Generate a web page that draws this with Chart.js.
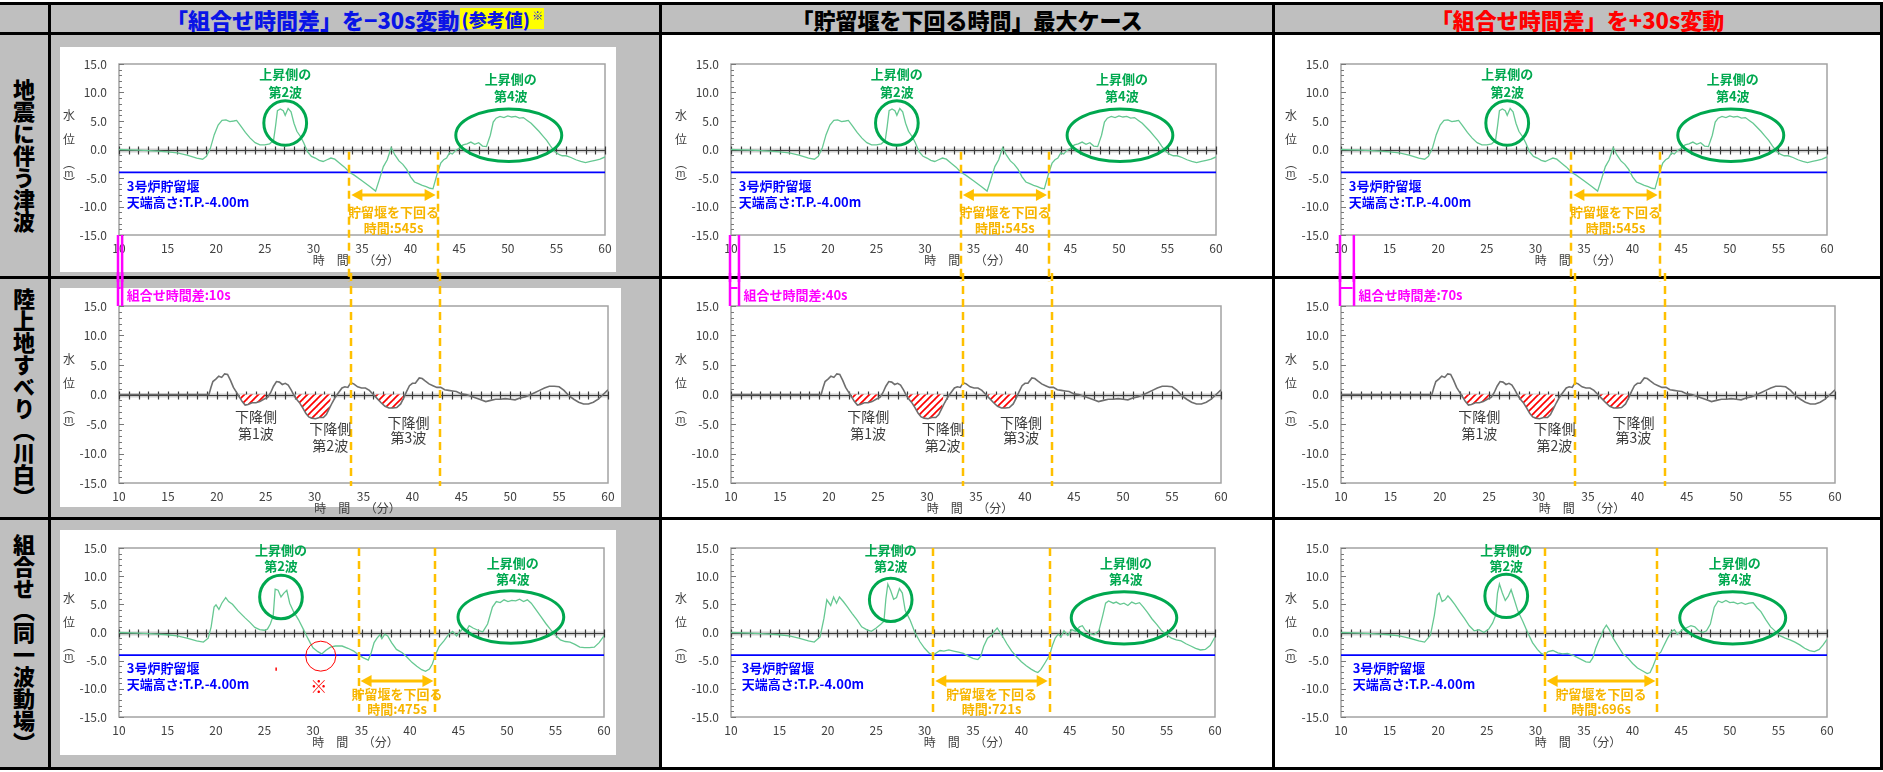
<!DOCTYPE html>
<html lang="ja">
<head>
<meta charset="utf-8">
<title>貯留堰を下回る時間</title>
<script src="https://cdn.jsdelivr.net/npm/chart.js@4.4.1/dist/chart.umd.min.js"></script>
<style>
html, body { margin: 0; padding: 0; background: #fff; }
#page { position: relative; width: 1883px; height: 772px; overflow: hidden; font-family: 'Noto Sans CJK JP', sans-serif; }
#page div { position: absolute; }
.gray { background: #bfbfbf; }
.white { background: #fff; }
.line { background: #000; z-index: 3; }
.head { display: flex; align-items: center; justify-content: center; font-weight: 900; font-size: 22px; line-height: 1; white-space: nowrap; z-index: 4; }
.rowlab { display: flex; align-items: center; justify-content: center; z-index: 4; }
.rowlab span { writing-mode: vertical-rl; font-weight: 900; font-size: 22px; line-height: 1; }
canvas { position: absolute; z-index: 5; }
</style>
</head>
<body>
<div id="page"></div>
<script>
// ── 図から読み取った値 ─────────────────────────────────────────────
const HEADERS = ['「組合せ時間差」を−30s変動', '「貯留堰を下回る時間」最大ケース', '「組合せ時間差」を+30s変動'];
const ROW_LABELS = ['地震に伴う津波', '陸上地すべり（川白）', '組合せ（同一波動場）'];
const TIME_DIFF_S = [10, 40, 70];            // 組合せ時間差 [s]
const BELOW_S_EQ = [545, 545, 545];          // 地震に伴う津波：貯留堰を下回る時間 [s]
const BELOW_S_CB = [475, 721, 696];          // 組合せ：貯留堰を下回る時間 [s]
const BELOW_SPAN_EQ = [33.7, 42.78];         // 下回る区間 [分]
const BELOW_SPAN_CB = [[34.7, 42.62], [30.9, 42.92], [30.95, 42.55]];
const DAM_LEVEL = -4.0;                      // 3号炉貯留堰 天端高さ T.P.-4.00m
const HATCH_WINDOWS = [[22.3, 25.0], [28.0, 31.7], [36.2, 39.1]]; // 下降側 第1〜3波

// 地震に伴う津波（水位 m / 時間 分）
const EQ_WAVE = [
  [10, 0], [11, -0.05], [12, -0.1], [13, -0.2], [14, -0.3], [15, -0.4], [16, -0.6], [17, -1.0], [18, -1.5],
  [18.6, -1.7], [19.0, -1.2], [19.4, 0.2], [19.8, 2.6], [20.2, 4.3], [20.6, 5.1], [21.0, 5.2], [21.4, 4.9],
  [21.8, 5.0], [22.1, 5.1], [22.5, 4.2], [23.0, 3.0], [23.5, 2.0], [24.0, 1.2], [24.5, 0.8], [25.0, 0.8],
  [25.5, 1.0], [25.9, 1.6], [26.1, 4.0], [26.3, 6.8], [26.6, 7.1], [26.9, 6.8], [27.1, 6.0], [27.4, 7.2],
  [27.7, 6.6], [28.0, 4.6], [28.3, 3.2], [28.7, 2.2], [29.0, 1.2], [29.4, -0.4], [29.8, -1.2], [30.2, -1.5],
  [30.6, -1.9], [31.0, -2.1], [31.4, -1.8], [31.8, -1.5], [32.2, -1.7], [32.7, -2.4], [33.2, -3.1], [33.7, -4.0],
  [34.2, -4.5], [35.0, -5.5], [35.8, -6.5], [36.4, -7.3], [36.8, -5.2], [37.2, -3.0], [37.6, -1.8], [38.0, 0.3],
  [38.4, -1.0], [38.8, -2.0], [39.2, -2.6], [39.6, -3.5], [40.0, -4.8], [40.4, -5.7], [40.8, -6.0], [41.2, -6.3],
  [41.6, -6.5], [42.0, -6.8], [42.3, -6.9], [42.78, -4.0], [43.1, -2.4], [43.4, -1.8], [43.7, -1.5], [44.0, -0.6],
  [44.3, -0.8], [44.6, -0.2], [45.0, 0.2], [45.4, 0.8], [45.8, 1.0], [46.2, 1.3], [46.6, 0.9], [47.0, 1.2],
  [47.4, 0.6], [47.8, 0.5], [48.2, 2.5], [48.5, 4.8], [48.8, 5.5], [49.2, 5.8], [49.6, 5.6], [50.0, 5.9],
  [50.4, 5.7], [50.8, 5.8], [51.2, 5.5], [51.6, 5.6], [52.0, 5.1], [52.4, 4.6], [52.8, 3.9], [53.2, 3.2],
  [53.6, 2.4], [54.0, 1.6], [54.4, 0.6], [54.8, -0.3], [55.2, -0.8], [55.6, -1.1], [56.0, -1.1], [56.5, -1.4],
  [57.0, -1.8], [57.5, -2.1], [58.0, -2.3], [58.5, -2.1], [59.0, -1.9], [59.5, -1.7], [60, -1.3],
];

// 陸上地すべり（川白）
const LS_WAVE = [
  [10, 0], [19.2, 0], [19.4, 1.2], [19.6, 2.2], [19.9, 2.6], [20.2, 3.1], [20.5, 2.9], [20.8, 3.5], [21.1, 3.4],
  [21.4, 2.4], [21.7, 1.2], [22.0, 0.4], [22.3, -0.4], [22.6, -1.2], [22.9, -1.8], [23.2, -1.7], [23.6, -1.4],
  [24.0, -1.4], [24.4, -1.2], [24.8, -0.8], [25.2, -0.5], [25.5, 0.3], [25.8, 1.4], [26.1, 2.2], [26.4, 2.1],
  [26.7, 1.7], [27.0, 1.9], [27.3, 1.6], [27.6, 0.8], [27.9, -0.2], [28.2, -0.9], [28.5, -1.5], [28.8, -2.3],
  [29.1, -3.2], [29.4, -3.8], [29.7, -4.0], [30.1, -4.1], [30.5, -3.9], [30.9, -3.9], [31.2, -3.4], [31.5, -2.4],
  [31.8, -1.4], [32.1, -0.5], [32.4, 0.2], [32.8, 1.1], [33.1, 1.3], [33.4, 1.2], [33.7, 2.0], [34.0, 1.8],
  [34.4, 1.3], [34.8, 1.1], [35.2, 1.1], [35.6, 0.7], [36.0, 0.0], [36.4, -0.7], [36.8, -1.4], [37.2, -2.0],
  [37.6, -2.3], [38.0, -2.3], [38.4, -2.2], [38.8, -1.6], [39.1, -0.6], [39.4, 0.5], [39.7, 1.5], [40.0, 1.9],
  [40.3, 1.9], [40.7, 2.8], [41.0, 2.7], [41.3, 2.3], [41.7, 1.8], [42.1, 1.5], [42.5, 1.2], [42.9, 1.2],
  [43.3, 0.8], [43.7, 0.7], [44.1, 0.6], [44.5, 0.5], [45.0, 0.1], [45.5, 0.0], [46.0, -0.3], [46.5, -0.6],
  [47.0, -0.9], [47.5, -1.2], [48.0, -1.0], [48.5, -0.8], [49.0, -0.8], [49.5, -0.7], [50.0, -0.8], [50.5, -0.9],
  [51.0, -0.6], [51.5, -0.4], [52.0, -0.1], [52.5, 0.3], [53.0, 0.7], [53.5, 1.1], [54.0, 1.4], [54.5, 1.4],
  [55.0, 1.3], [55.5, 0.7], [56.0, -0.2], [56.5, -0.8], [57.0, -1.3], [57.5, -1.6], [58.0, -1.6], [58.5, -1.3],
  [59.0, -0.8], [59.5, 0.0], [60, 0.8],
];

// 組合せ（同一波動場）：-30s変動
const CB_WAVE_M30 = [
  [10, 0], [12, -0.1], [14, -0.3], [15, -0.4], [16, -0.6], [17, -1.0], [18, -1.5], [18.7, -1.7], [19.2, -1.0],
  [19.5, 1.0], [19.8, 4.5], [20.0, 4.9], [20.3, 4.1], [20.6, 5.2], [21.0, 6.2], [21.3, 5.5], [21.7, 5.0],
  [22.3, 3.8], [23.0, 2.6], [23.5, 1.8], [24.0, 0.9], [24.5, 0.5], [25.0, 0.4], [25.3, 0.6], [25.6, 1.5],
  [25.9, 3.0], [26.1, 7.7], [26.4, 7.5], [26.7, 6.3], [27.0, 7.0], [27.3, 7.5], [27.6, 5.2], [28.0, 3.7],
  [28.5, 2.3], [29.0, 0.6], [29.3, -0.5], [29.7, -1.8], [30.0, -2.7], [30.5, -3.4], [30.9, -3.8], [31.3, -3.2],
  [31.8, -2.6], [32.3, -2.4], [33.0, -2.4], [33.6, -2.8], [34.2, -3.3], [34.7, -4.0], [35.2, -4.5], [35.7, -4.9],
  [36.0, -3.6], [36.3, -1.8], [36.6, -1.0], [36.9, -0.4], [37.1, -1.1], [37.4, -0.3], [37.7, -0.6], [38.1, -1.8],
  [38.6, -3.0], [39.2, -3.6], [39.7, -4.4], [40.2, -5.3], [40.7, -6.0], [41.2, -6.6], [41.6, -6.9], [42.0, -6.5],
  [42.3, -5.6], [42.62, -4.0], [43.0, -2.5], [43.5, -1.5], [44.0, -0.3], [44.4, 0.2], [44.8, -0.6], [45.1, 0.0],
  [45.5, 0.8], [45.8, 0.3], [46.1, 1.2], [46.5, 0.8], [47.0, 0.4], [47.5, 0.1], [48.0, 1.5], [48.5, 4.5],
  [48.9, 5.5], [49.3, 5.3], [49.7, 5.8], [50.1, 5.5], [50.5, 5.7], [50.9, 5.6], [51.3, 5.9], [51.7, 5.5],
  [52.1, 5.8], [52.5, 5.2], [53.0, 4.0], [53.5, 2.8], [54.0, 1.6], [54.5, 0.5], [55.0, -0.5], [55.5, -1.3],
  [56.0, -1.6], [56.5, -1.7], [57.0, -2.1], [57.5, -2.6], [58.0, -2.7], [58.5, -2.7], [59.0, -2.6], [59.5, -1.8],
  [60, -0.6],
];

// 組合せ：「貯留堰を下回る時間」最大ケース
const CB_WAVE_MAX = [
  [10, 0], [12, -0.1], [14, -0.3], [15, -0.4], [16, -0.6], [17, -1.0], [18, -1.5], [18.6, -1.7], [19.2, -0.8],
  [19.6, 2.5], [19.9, 5.8], [20.3, 4.8], [20.6, 6.3], [20.9, 5.2], [21.2, 6.3], [21.6, 5.5], [22.0, 4.6],
  [22.5, 3.4], [23.0, 2.3], [23.5, 1.0], [24.0, 0.5], [24.5, 0.2], [25.0, 0.8], [25.5, 1.5], [25.8, 2.0],
  [26.0, 6.0], [26.2, 8.6], [26.5, 7.4], [26.8, 5.9], [27.1, 6.2], [27.4, 7.8], [27.7, 7.0], [28.0, 3.9],
  [28.5, 2.2], [29.0, 0.0], [29.5, -1.6], [30.0, -2.8], [30.5, -3.7], [30.9, -4.0], [31.3, -3.5], [31.6, -3.2],
  [32.0, -3.3], [32.5, -3.1], [33.0, -3.3], [33.5, -3.5], [34.0, -3.7], [34.5, -4.2], [35.0, -4.6], [35.5, -4.8],
  [35.8, -4.2], [36.1, -2.5], [36.5, -1.0], [36.9, -0.5], [37.2, 0.2], [37.5, 0.8], [37.8, 0.0], [38.1, -0.8],
  [38.5, -2.0], [39.0, -3.3], [39.5, -4.3], [40.0, -5.2], [40.5, -5.9], [41.0, -6.5], [41.4, -6.9], [41.7, -7.1],
  [42.0, -6.6], [42.4, -5.5], [42.92, -4.0], [43.2, -2.3], [43.5, -1.0], [43.8, -0.3], [44.1, -0.8], [44.4, 0.3],
  [44.8, -0.5], [45.2, 0.5], [45.6, 0.2], [46.0, 1.0], [46.3, 1.2], [46.6, 0.4], [47.0, -0.1], [47.5, -0.4],
  [48.0, 0.3], [48.4, 3.0], [48.7, 5.2], [49.0, 5.6], [49.5, 5.2], [49.8, 5.4], [50.2, 5.0], [50.6, 5.2],
  [51.0, 4.8], [51.4, 5.4], [51.8, 5.1], [52.2, 5.3], [52.6, 4.5], [53.0, 3.6], [53.5, 2.4], [54.0, 1.4],
  [54.5, 0.3], [55.0, -0.4], [55.5, -1.0], [56.0, -1.3], [56.5, -1.5], [57.0, -2.0], [57.5, -2.4], [58.0, -2.8],
  [58.5, -3.1], [59.0, -3.0], [59.5, -2.3], [60, -0.8],
];

// 組合せ：+30s変動
const CB_WAVE_P30 = [
  [10, 0], [12, -0.1], [14, -0.3], [15, -0.4], [16, -0.6], [17, -1.0], [18, -1.5], [18.6, -1.7], [19.2, -0.5],
  [19.6, 3.0], [19.9, 6.6], [20.1, 7.0], [20.4, 5.5], [20.7, 5.8], [21.0, 6.5], [21.3, 5.9], [21.7, 5.0],
  [22.2, 3.7], [22.7, 2.5], [23.2, 1.2], [23.7, 0.3], [24.2, 0.5], [24.7, 0.0], [25.2, 0.6], [25.6, 1.7],
  [25.9, 3.0], [26.1, 7.0], [26.3, 8.6], [26.6, 7.0], [26.9, 5.7], [27.2, 6.4], [27.5, 7.6], [27.8, 6.0],
  [28.2, 3.8], [28.7, 2.0], [29.2, 0.0], [29.7, -1.8], [30.2, -3.0], [30.6, -3.7], [30.95, -4.0], [31.3, -3.4],
  [31.8, -3.2], [32.3, -3.6], [32.8, -3.8], [33.3, -3.7], [33.8, -4.0], [34.5, -4.6], [35.2, -5.2], [35.6, -5.3],
  [35.9, -4.5], [36.2, -2.8], [36.5, -1.5], [36.8, -0.5], [37.0, 0.5], [37.3, 1.3], [37.6, 0.5], [38.0, -1.0],
  [38.5, -2.4], [39.0, -3.8], [39.5, -4.5], [40.0, -5.5], [40.5, -6.3], [41.0, -6.8], [41.5, -7.3], [41.8, -7.1],
  [42.1, -6.0], [42.55, -4.0], [42.9, -3.5], [43.2, -2.4], [43.6, -1.0], [44.0, 0.2], [44.3, 0.5], [44.6, -0.3],
  [45.0, 0.3], [45.5, 0.8], [46.0, 1.2], [46.4, 1.0], [46.8, 0.3], [47.2, 0.0], [47.6, 0.3], [48.0, 1.5],
  [48.4, 4.5], [48.8, 5.6], [49.2, 5.3], [49.6, 5.7], [50.0, 5.3], [50.4, 5.4], [50.8, 5.1], [51.2, 5.3],
  [51.6, 5.0], [52.0, 5.2], [52.4, 5.3], [52.8, 4.4], [53.2, 3.7], [53.7, 2.3], [54.2, 1.0], [54.7, 0.2],
  [55.2, -0.6], [55.7, -1.0], [56.2, -1.3], [56.7, -1.7], [57.2, -2.2], [57.7, -2.8], [58.2, -3.2], [58.7, -3.4],
  [59.2, -3.0], [59.6, -2.2], [60, -1.2],
];
const CB_WAVES = [CB_WAVE_M30, CB_WAVE_MAX, CB_WAVE_P30];

// ── 配置・色 ─────────────────────────────────────────────────────
const COL_X = [[51, 659], [662, 1272], [1275, 1880]];
const ROW_Y = [[35, 276], [279, 517], [520, 767]];
const PLOT_Y = [[64, 235], [306, 483], [548, 717]];
const PLOT_X = [
  [[119, 605], [731, 1216], [1341, 1827]],
  [[119, 608], [731, 1221], [1341, 1835]],
  [[119, 604], [731, 1215], [1341, 1827]],
];
const PANELS = [[60, 47, 616, 272], [60, 288, 621, 507], [60, 530, 616, 755]];

const GREEN_LINE = '#66c892';
const GREEN = '#00a84f';
const BLUE = '#0000ff';
const ORANGE = '#ffc000';
const ORANGE_TXT = '#f7b500';
const MAGENTA = '#ff00ff';
const GRAY_LINE = '#6e6e6e';
const FONT = "'Noto Sans CJK JP', sans-serif";
const BOLD13 = `700 13px ${FONT}`;

Chart.defaults.font.family = FONT;

const page = document.getElementById('page');
function div(x, y, w, h, cls, html) {
  const d = document.createElement('div');
  d.className = cls;
  Object.assign(d.style, { left: x + 'px', top: y + 'px', width: w + 'px', height: h + 'px' });
  if (html) d.innerHTML = html;
  page.appendChild(d);
  return d;
}

// 表の背景と罫線
div(0, 3, 1883, 31, 'gray');
div(0, 33, 49, 737, 'gray');
ROW_Y.forEach(([y0, y1]) => div(COL_X[0][0], y0, COL_X[0][1] - COL_X[0][0], y1 - y0, 'gray'));
PANELS.forEach(([x0, y0, x1, y1]) => div(x0, y0, x1 - x0, y1 - y0, 'white'));
[2, 32, 276, 517, 767].forEach((y) => div(0, y, 1883, 3, 'line'));
[48, 659, 1272, 1880].forEach((x) => div(x, 2, 3, 768, 'line'));

// 見出し
const headHtml = [
  `<span style="color:#0a14e6">${HEADERS[0]}</span><span style="color:#0a14e6;background:#ffff00;font-size:18px;padding:2px 1px 1px 2px">(参考値)<span style="font-size:11px;vertical-align:7px;margin-left:2px">※</span></span>`,
  `<span style="color:#000">${HEADERS[1]}</span>`,
  `<span style="color:#ff0000">${HEADERS[2]}</span>`,
];
COL_X.forEach(([x0, x1], c) => div(x0, 5, x1 - x0, 27, 'head', headHtml[c]));
ROW_Y.forEach(([y0, y1], r) => div(0, y0, 48, y1 - y0, 'rowlab', `<span>${ROW_LABELS[r]}</span>`));

// 斜線ハッチ（下降側の波）
function makeHatch() {
  const n = 7;
  const c = document.createElement('canvas');
  c.width = c.height = n;
  const g = c.getContext('2d');
  g.fillStyle = '#ffffff';
  g.fillRect(0, 0, n, n);
  g.strokeStyle = '#ff0000';
  g.lineWidth = 1.7;
  [[-n / 2, n / 2, n / 2, -n / 2], [0, n, n, 0], [n / 2, n * 1.5, n * 1.5, n / 2]].forEach(([a, b, d, e]) => {
    g.beginPath(); g.moveTo(a, b); g.lineTo(d, e); g.stroke();
  });
  return g.createPattern(c, 'repeat');
}
const HATCH = makeHatch();

const pts = (arr) => arr.map(([x, y]) => ({ x, y }));
const damSet = () => ({ data: [{ x: 10, y: DAM_LEVEL }, { x: 60, y: DAM_LEVEL }], borderColor: BLUE, borderWidth: 1.8 });

// 枠・0軸・軸タイトル
const frameAxes = {
  id: 'frameAxes',
  beforeDatasetsDraw(chart) {
    const { ctx, chartArea: a } = chart;
    const X = (v) => chart.scales.x.getPixelForValue(v);
    const Y = (v) => chart.scales.y.getPixelForValue(v);
    const seg = (x0, y0, x1, y1) => { ctx.beginPath(); ctx.moveTo(x0, y0); ctx.lineTo(x1, y1); ctx.stroke(); };
    ctx.save();
    ctx.strokeStyle = '#a3a3a3';
    ctx.lineWidth = 1.5;
    ctx.strokeRect(a.left, a.top, a.right - a.left, a.bottom - a.top);
    ctx.strokeStyle = '#777';
    ctx.lineWidth = 1;
    for (let v = -15; v <= 15; v += 1) {
      const y = Math.round(Y(v)) + 0.5;
      seg(a.left, y, a.left + (v % 5 === 0 ? 5 : 3), y);
    }
    const y0 = Math.round(Y(0)) + 0.5;
    ctx.strokeStyle = 'rgba(90,90,90,0.3)';
    ctx.lineWidth = 4;
    seg(a.left, y0, a.right, y0);
    ctx.strokeStyle = '#3a3a3a';
    ctx.lineWidth = 1.2;
    seg(a.left, y0, a.right, y0);
    for (let t = 10; t <= 60; t += 1) {
      const x = Math.round(X(t)) + 0.5;
      seg(x, y0 - 4, x, y0 + 4);
    }
    ctx.fillStyle = '#404040';
    ctx.textAlign = 'center';
    ctx.textBaseline = 'middle';
    ctx.font = `12px ${FONT}`;
    ctx.fillText('時　間　 （分）', (a.left + a.right) / 2 - 6, a.bottom + 25);
    const h = a.bottom - a.top;
    [['水', 0.30], ['位', 0.44], ['︵', 0.58], ['m', 0.64], ['︶', 0.70]].forEach(([s, f]) => {
      ctx.font = `${s === 'm' ? 10 : 12}px ${FONT}`;
      ctx.fillText(s, a.left - 50, a.top + f * h);
    });
    ctx.restore();
  },
};

// 注記（楕円・点線・矢印・文字）
const overlay = {
  id: 'overlay',
  afterDatasetsDraw(chart, args, opts) {
    const { ctx, chartArea: a } = chart;
    const X = (v) => chart.scales.x.getPixelForValue(v);
    const Y = (v) => chart.scales.y.getPixelForValue(v);
    const edge = { ct: 0, cb: chart.height, pt: a.top, pb: a.bottom };
    const yAt = (s) => (typeof s === 'number' ? Y(s) : edge[s[0]] + (s[1] || 0));
    const seg = (x0, y0, x1, y1) => { ctx.beginPath(); ctx.moveTo(x0, y0); ctx.lineTo(x1, y1); ctx.stroke(); };
    ctx.save();
    (opts.items || []).forEach((it) => {
      ctx.setLineDash([]);
      if (it.type === 'ellipse') {
        ctx.strokeStyle = it.color || GREEN;
        ctx.lineWidth = it.width || 3;
        ctx.beginPath();
        ctx.ellipse(X(it.t), Y(it.v), Math.abs(X(it.t + it.rt) - X(it.t)), Math.abs(Y(it.v + it.rv) - Y(it.v)), 0, 0, Math.PI * 2);
        ctx.stroke();
      } else if (it.type === 'vdash') {
        ctx.strokeStyle = ORANGE;
        ctx.lineWidth = 2.5;
        ctx.setLineDash([8, 5]);
        const x = Math.round(X(it.t));
        seg(x, yAt(it.from), x, yAt(it.to));
      } else if (it.type === 'vline') {
        ctx.strokeStyle = it.color;
        ctx.lineWidth = it.width || 2.5;
        const x = X(it.t) + (it.dx || 0);
        seg(x, yAt(it.from), x, yAt(it.to));
      } else if (it.type === 'hline') {
        ctx.strokeStyle = it.color;
        ctx.lineWidth = it.width || 2;
        seg(X(it.t0), yAt(it.v), X(it.t1), yAt(it.v));
      } else if (it.type === 'arrow') {
        const x0 = X(it.t0) + 2, x1 = X(it.t1) - 2, y = Y(it.v);
        ctx.strokeStyle = ORANGE;
        ctx.fillStyle = ORANGE;
        ctx.lineWidth = 3;
        seg(x0 + 6, y, x1 - 6, y);
        [[x0, 1], [x1, -1]].forEach(([x, d]) => {
          ctx.beginPath();
          ctx.moveTo(x, y);
          ctx.lineTo(x + d * 11, y - 6);
          ctx.lineTo(x + d * 11, y + 6);
          ctx.closePath();
          ctx.fill();
        });
      } else if (it.type === 'text') {
        ctx.fillStyle = it.color;
        ctx.font = it.font || BOLD13;
        ctx.textAlign = it.align || 'center';
        ctx.textBaseline = 'middle';
        ctx.fillText(it.text, X(it.t) + (it.dx || 0), yAt(it.v));
      }
    });
    ctx.restore();
  },
};

// 上昇側の波：楕円＋見出し
function waveMark(t, v, rt, rv, name, vText1, vText2, tText) {
  const tt = tText === undefined ? t : tText;
  return [
    { type: 'ellipse', t, v, rt, rv },
    { type: 'text', t: tt, v: vText1, text: '上昇側の', color: GREEN },
    { type: 'text', t: tt, v: vText2, text: name, color: GREEN },
  ];
}
function damText(t, v1, v2) {
  return [
    { type: 'text', t, v: v1, text: '3号炉貯留堰', color: BLUE, align: 'left' },
    { type: 'text', t, v: v2, text: '天端高さ:T.P.-4.00m', color: BLUE, align: 'left' },
  ];
}
function belowMark(t0, t1, vArrow, v1, v2, sec) {
  const tm = (t0 + t1) / 2;
  return [
    { type: 'arrow', t0, t1, v: vArrow },
    { type: 'text', t: tm, v: v1, text: '貯留堰を下回る', color: ORANGE_TXT },
    { type: 'text', t: tm, v: v2, text: `時間:${sec}s`, color: ORANGE_TXT },
  ];
}

function eqItems(c) {
  const [t0, t1] = BELOW_SPAN_EQ;
  const tg = 10 + TIME_DIFF_S[c] / 60;
  return [
    ...waveMark(27.1, 4.65, 2.2, 3.9, '第2波', 13.2, 10.1),
    ...waveMark(50.1, 2.5, 5.45, 4.6, '第4波', 12.4, 9.4, 50.3),
    ...damText(10.8, -6.4, -9.2),
    { type: 'vdash', t: t0, from: -0.4, to: ['cb', 0] },
    { type: 'vdash', t: t1, from: -0.4, to: ['cb', 0] },
    ...belowMark(t0, t1, -8.0, -10.9, -13.7, BELOW_S_EQ[c]),
    { type: 'vline', t: 10, dx: -1, from: ['pb', 0], to: ['cb', 0], color: MAGENTA },
    { type: 'vline', t: tg, dx: 1.5, from: ['pb', 0], to: ['cb', 0], color: MAGENTA },
  ];
}

function lsItems(c) {
  const [t0, t1] = BELOW_SPAN_EQ;
  const tg = 10 + TIME_DIFF_S[c] / 60;
  const serif = `400 14px ${FONT}`;
  const fall = [[24.0, -3.8, -6.7, '第1波'], [31.6, -5.8, -8.7, '第2波'], [39.6, -4.7, -7.4, '第3波']];
  return [
    { type: 'vdash', t: t0, from: ['ct', 0], to: ['pb', 3] },
    { type: 'vdash', t: t1, from: ['ct', 0], to: ['pb', 3] },
    ...fall.flatMap(([t, v1, v2, name]) => [
      { type: 'text', t, v: v1, text: '下降側', color: '#3c3c3c', font: serif },
      { type: 'text', t, v: v2, text: name, color: '#3c3c3c', font: serif },
    ]),
    { type: 'vline', t: 10, dx: -1, from: ['ct', 0], to: ['pt', 0], color: MAGENTA },
    { type: 'vline', t: tg, dx: 1.5, from: ['ct', 0], to: ['pt', 0], color: MAGENTA },
    { type: 'hline', t0: 10, t1: tg, v: ['pt', -18], color: MAGENTA },
    { type: 'text', t: tg, dx: 6, v: ['pt', -11], text: `組合せ時間差:${TIME_DIFF_S[c]}s`, color: MAGENTA, align: 'left' },
  ];
}

const CB_MARKS = [
  { e2: [26.7, 6.3], e4: [50.4, 2.75], dam: 10.8 },
  { e2: [26.5, 5.8], e4: [50.6, 2.6], dam: 11.1 },
  { e2: [27.0, 6.5], e4: [50.3, 2.6], dam: 11.2 },
];
function cbItems(c) {
  const [t0, t1] = BELOW_SPAN_CB[c];
  const m = CB_MARKS[c];
  const items = [
    ...waveMark(m.e2[0], m.e2[1], 2.2, 3.85, '第2波', 14.7, 11.8),
    ...waveMark(m.e4[0], m.e4[1], 5.45, 4.65, '第4波', 12.3, 9.5, m.e4[0] + 0.2),
    ...damText(m.dam, -6.3, -9.1),
    { type: 'vdash', t: t0, from: ['pt', 0], to: ['pb', 0] },
    { type: 'vdash', t: t1, from: ['pt', 0], to: ['pb', 0] },
    ...belowMark(t0, t1, -8.6, -10.9, -13.6, BELOW_S_CB[c]),
  ];
  if (c === 0) {
    items.push(
      { type: 'ellipse', t: 30.8, v: -4.2, rt: 1.55, rv: 2.66, color: '#ff0000', width: 1 },
      { type: 'text', t: 30.6, v: -9.6, text: '※', color: '#ff0000', font: `700 17px ${FONT}` },
      { type: 'vline', t: 26.2, from: -6.2, to: -6.8, color: '#ff0000', width: 1.5 },
    );
  }
  return items;
}

function makeChart(r, c, datasets, items) {
  const [cx0, cx1] = COL_X[c];
  const cy0 = ROW_Y[r][0] - 6, cy1 = ROW_Y[r][1] + 6;
  const [px0, px1] = PLOT_X[r][c];
  const [py0, py1] = PLOT_Y[r];
  const cv = document.createElement('canvas');
  cv.width = cx1 - cx0;
  cv.height = cy1 - cy0;
  Object.assign(cv.style, { left: cx0 + 'px', top: cy0 + 'px', width: cv.width + 'px', height: cv.height + 'px' });
  page.appendChild(cv);
  const tickFont = { size: 12, family: FONT };
  new Chart(cv, {
    type: 'line',
    data: { datasets: datasets.map((d) => ({ pointRadius: 0, tension: 0, fill: false, ...d })) },
    options: {
      responsive: false,
      animation: false,
      devicePixelRatio: 1,
      layout: { padding: { left: 0, top: py0 - cy0, right: cx1 - px1, bottom: 0 } },
      plugins: { legend: { display: false }, tooltip: { enabled: false }, overlay: { items } },
      scales: {
        x: {
          type: 'linear', min: 10, max: 60,
          grid: { display: false, drawTicks: false }, border: { display: false },
          ticks: { stepSize: 5, padding: 6, color: '#404040', font: tickFont, maxRotation: 0, autoSkip: false },
          afterFit: (s) => { s.height = cy1 - py1; },
        },
        y: {
          type: 'linear', min: -15, max: 15,
          grid: { display: false, drawTicks: false }, border: { display: false },
          ticks: { stepSize: 5, padding: 12, color: '#404040', font: tickFont, callback: (v) => v.toFixed(1) },
          afterFit: (s) => { s.width = px0 - cx0; },
        },
      },
    },
    plugins: [frameAxes, overlay],
  });
}

const hatchSets = HATCH_WINDOWS.map(([a, b]) => ({
  data: [{ x: a, y: 0 }, ...LS_WAVE.filter(([t]) => t > a && t < b).map(([x, y]) => ({ x, y: Math.min(y, 0) })), { x: b, y: 0 }],
  borderWidth: 0, borderColor: 'rgba(0,0,0,0)', backgroundColor: HATCH, fill: 'origin',
}));

for (let c = 0; c < 3; c++) {
  makeChart(0, c, [{ data: pts(EQ_WAVE), borderColor: GREEN_LINE, borderWidth: 1.3 }, damSet()], eqItems(c));
  makeChart(1, c, [{ data: pts(LS_WAVE), borderColor: GRAY_LINE, borderWidth: 1.6 }, ...hatchSets], lsItems(c));
  makeChart(2, c, [{ data: pts(CB_WAVES[c]), borderColor: GREEN_LINE, borderWidth: 1.3 }, damSet()], cbItems(c));
}
</script>
</body>
</html>
